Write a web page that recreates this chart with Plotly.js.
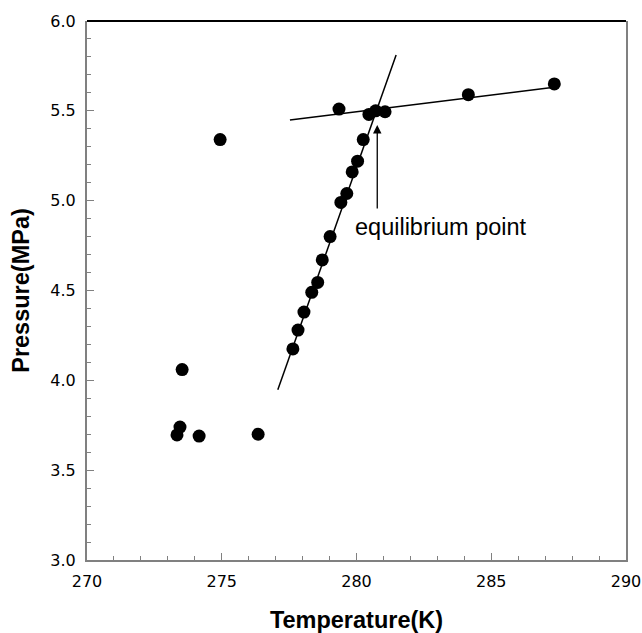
<!DOCTYPE html>
<html>
<head>
<meta charset="utf-8">
<script src="https://cdn.plot.ly/plotly-3.0.1.min.js"></script>
<style>html,body{margin:0;padding:0;background:#fff;}</style>
</head>
<body>
<div id="chart" style="width:642px;height:633px;"></div>
<script>
// Measured data points
var temperature = [273.34, 273.45, 273.53, 274.16, 274.94, 276.35, 277.64, 277.83, 278.05, 278.34, 278.56, 278.73, 279.02, 279.42, 279.64, 279.84, 280.04, 280.25, 279.35, 280.46, 280.71, 281.06, 284.15, 287.34];
var pressure    = [3.696, 3.74, 4.06, 3.69, 5.34, 3.70, 4.175, 4.28, 4.38, 4.49, 4.545, 4.67, 4.80, 4.99, 5.04, 5.16, 5.22, 5.34, 5.51, 5.48, 5.50, 5.495, 5.59, 5.65];

// Fitted lines (endpoints)
var steepLineT = [277.08, 281.47];
var steepLineP = [3.947, 5.811];
var flatLineT = [277.53, 287.18];
var flatLineP = [5.449, 5.629];

// Annotation
var eqLabel = "equilibrium point";
var eqTipT = 280.77, eqTipP = 5.421;
var eqTailP = 4.948;
var eqTextT = 283.15, eqTextP = 4.854;

var xTicks = [270, 275, 280, 285, 290];
var yTicks = [3.0, 3.5, 4.0, 4.5, 5.0, 5.5, 6.0];

var traces = [
  {x: steepLineT, y: steepLineP, mode: 'lines', line: {color: '#000', width: 1.5}, hoverinfo: 'skip'},
  {x: flatLineT, y: flatLineP, mode: 'lines', line: {color: '#000', width: 1.5}, hoverinfo: 'skip'},
  {x: temperature, y: pressure, mode: 'markers', marker: {color: '#000', size: 13}}
];

var axisFont = {family: '"DejaVu Sans", sans-serif', size: 16, color: '#000'};
var titleFont = {family: 'Arial, "Liberation Sans", sans-serif', size: 23.5, color: '#000', weight: 'bold'};

var layout = {
  width: 642, height: 633,
  margin: {l: 87, r: 16, t: 21, b: 73},
  paper_bgcolor: '#fff', plot_bgcolor: '#fff',
  showlegend: false,
  xaxis: {
    range: [270, 290], tickvals: xTicks, ticktext: xTicks.map(String),
    showgrid: false, zeroline: false,
    showline: true, linecolor: '#808080', linewidth: 2,
    ticks: 'inside', ticklen: 7, tickcolor: '#808080', tickwidth: 1,
    minor: {dtick: 1, ticks: 'inside', ticklen: 4, tickcolor: '#808080', tickwidth: 1, showgrid: false},
    tickfont: axisFont, ticklabelstandoff: 6,
    title: {text: 'Temperature(K)', font: titleFont, standoff: 24}
  },
  yaxis: {
    range: [3.0, 6.0], tickvals: yTicks, ticktext: yTicks.map(function(v){return v.toFixed(1);}),
    showgrid: false, zeroline: false,
    showline: true, mirror: true, linecolor: '#808080', linewidth: 2,
    ticks: 'inside', ticklen: 7, tickcolor: '#808080', tickwidth: 1,
    minor: {dtick: 0.1, ticks: 'inside', ticklen: 4, tickcolor: '#808080', tickwidth: 1, showgrid: false},
    tickfont: axisFont, ticklabelstandoff: 6,
    title: {text: 'Pressure(MPa)', font: titleFont, standoff: 14}
  },
  shapes: [
    {type: 'line', xref: 'paper', yref: 'paper', x0: 0, x1: 1, y0: 1, y1: 1, line: {color: '#000', width: 2}}
  ],
  annotations: [
    {x: eqTipT, y: eqTipP, ax: eqTipT, ay: eqTailP, xref: 'x', yref: 'y', axref: 'x', ayref: 'y',
     text: '', showarrow: true, arrowhead: 2, arrowsize: 1.3, arrowwidth: 1.3, arrowcolor: '#000'},
    {x: eqTextT, y: eqTextP, xref: 'x', yref: 'y', text: eqLabel, showarrow: false,
     font: {family: 'Arial, "Liberation Sans", sans-serif', size: 23.5, color: '#000'}}
  ]
};

Plotly.newPlot('chart', traces, layout, {displayModeBar: false, staticPlot: true});
</script>
</body>
</html>
